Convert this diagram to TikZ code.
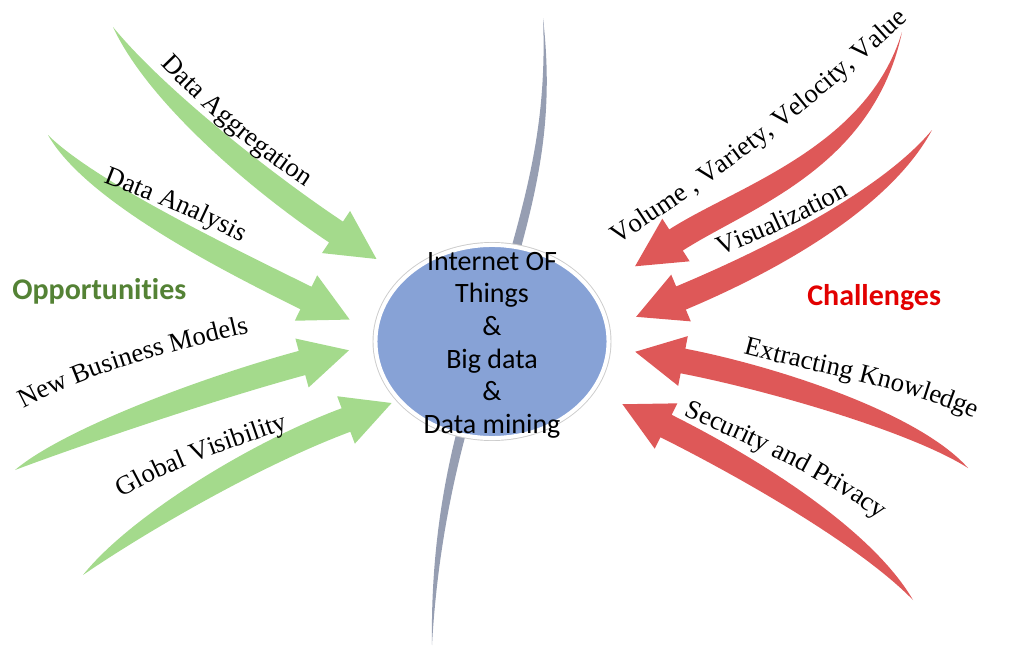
\documentclass[tikz,border=0pt]{standalone}
\usepackage{fontspec}
\setmainfont{Liberation Serif}
\newfontfamily\calibri[Ligatures=NoCommon]{Carlito}
\usetikzlibrary{calc,decorations.text,shapes.geometric}

\definecolor{oppgreen}{RGB}{164,218,140}
\definecolor{challred}{RGB}{222,88,88}
\definecolor{oppdark}{RGB}{84,130,53}
\definecolor{challdark}{RGB}{226,0,0}
\definecolor{iotblue}{RGB}{135,162,214}
\definecolor{ribbon}{RGB}{150,158,178}

\newcommand{\tailw}{8pt}
\newcommand{\neckw}{9.4pt}
\newcommand{\headw}{19pt}
\newcommand{\headl}{36.5pt}
\newcommand{\lblfont}{\fontsize{20}{22}\selectfont}

% tapered bent arrow: name, colour, tail, control, control, neck
\newcommand{\fatarrow}[6]{%
  \coordinate (#1-t) at (#3);
  \coordinate (#1-a) at (#4);
  \coordinate (#1-b) at (#5);
  \coordinate (#1-n) at (#6);
  \fill[#2] (#1-t)
    .. controls ($(#1-a)!\tailw!-90:(#1-b)$) and ($(#1-b)!\neckw!-90:(#1-n)$) .. ($(#1-n)!\neckw!90:(#1-b)$)
    -- ($(#1-n)!\headw!90:(#1-b)$) -- ($(#1-n)!-\headl!(#1-b)$) coordinate (#1-tip)
    -- ($(#1-n)!\headw!-90:(#1-b)$) -- ($(#1-n)!\neckw!-90:(#1-b)$)
    .. controls ($(#1-b)!\neckw!90:(#1-n)$) and ($(#1-a)!\tailw!90:(#1-b)$) .. (#1-t) -- cycle;}

\tikzset{
  arrowlabel/.style={decorate, decoration={text along path, text align=center, text={|\lblfont|#1}}},
  header/.style={font=\calibri\bfseries\fontsize{22.5}{26}\selectfont, inner sep=0pt, anchor=base west},
  hub/.style={ellipse, draw=white, line width=3pt, fill=iotblue, minimum width=174.8pt, minimum height=144.8pt, inner sep=0pt},
  hubtext/.style={align=center, inner sep=0pt, font=\calibri\fontsize{21}{24.5}\selectfont}
}

\begin{document}
\begin{tikzpicture}[x=0.75pt, y=-0.75pt]
\useasboundingbox (0,0) rectangle (1036,650);

% thin grey stroke running behind the hub
\fill[ribbon] (543,18) .. controls (557,140) and (530,215) .. (495,340)
  .. controls (467,420) and (439,520) .. (432,645)
  .. controls (430,520) and (456,420) .. (485,340)
  .. controls (520,215) and (548,140) .. (543,18) -- cycle;

% opportunities
\fatarrow{agg}{oppgreen}{113,27}{155,95}{261,182}{336,232}
\fatarrow{ana}{oppgreen}{48,135}{90,191}{225,258}{306,298}
\fatarrow{biz}{oppgreen}{15,470}{67,439}{206,389}{302,363}
\fatarrow{vis}{oppgreen}{83,575}{134,527}{252,455}{346,420}

% challenges
\fatarrow{vvv}{challred}{902,32}{870,158}{743,197}{676,240}
\fatarrow{viz}{challred}{932,130}{882,205}{755,267}{681,298}
\fatarrow{ext}{challred}{968,468}{915,422}{771,378}{683,361}
\fatarrow{sec}{challred}{913,600}{865,536}{746,466}{666,426}

% labels bent along the arrows
\path[arrowlabel={Data Aggregation}] (143,46) .. controls (204,112) and (251,152) .. (327,201);
\path[arrowlabel={Data Analysis}] (78,172) .. controls (152,201) and (197,217) .. (266,256);
\path[arrowlabel={New Business Models}] (-6,425) .. controls (90,368) and (173,351) .. (282,325);
\path[arrowlabel={Global Visibility}] (100,511) .. controls (173,464) and (230,450) .. (312,420);
\path[arrowlabel={Volume , Variety, Velocity, Value}] (599,256) .. controls (724,178) and (817,105) .. (924,5);
\path[arrowlabel={Visualization}] (694,265) .. controls (765,239) and (808,219) .. (874,182);
\path[arrowlabel={Extracting Knowledge}] (713,345) .. controls (821,378) and (906,382) .. (1003,432);
\path[arrowlabel={Security and Privacy}] (658,405) .. controls (752,445) and (821,474) .. (902,536);

\node[header, text=oppdark] (opp) at (12,299) {Opportunities};
\node[header, text=challdark] (chall) at (807,305) {Challenges};

% hub
\fill[gray!40] (492,341.5) ellipse [x radius=89.6pt, y radius=74.6pt];
\node[hub] (iot) at (492,341.5) {};
\node[hubtext] (iot text) at (492,345) {Internet OF\\Things\\\&\\Big data\\\&\\Data mining};

\end{tikzpicture}
\end{document}
